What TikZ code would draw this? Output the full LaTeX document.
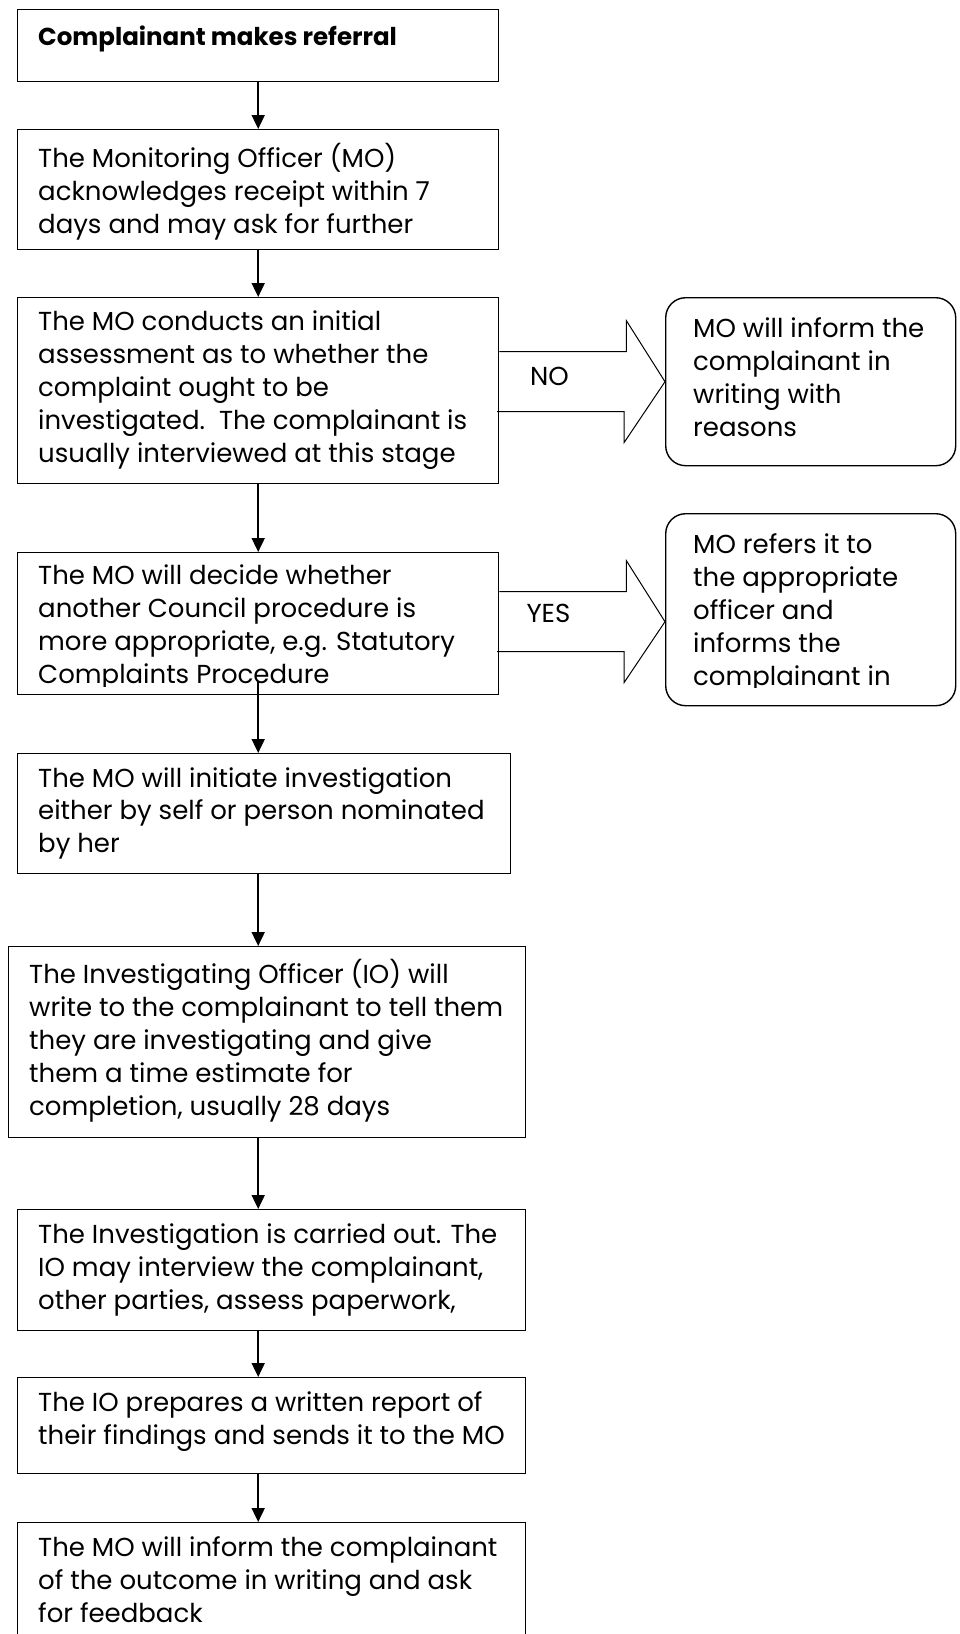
\documentclass[tikz,border=0pt]{standalone}
\usepackage{fontspec}
\newfontfamily\gothic{Poppins}
\usetikzlibrary{arrows.meta,calc}

\begin{document}
\begin{tikzpicture}[
    x=1pt, y=-1pt,
    every node/.style={font=\gothic\fontsize{26}{33}\selectfont},
    box/.style={draw, line width=1.4pt, anchor=north west, inner sep=0pt},
    answer/.style={draw, line width=1.4pt, rounded corners=20pt, anchor=north west, inner sep=0pt},
    txt/.style={anchor=north west, inner sep=0pt, align=left, execute at begin node=\strut},
    flow/.style={-{Triangle[length=14pt, width=13pt]}, line width=1.8pt},
    blockarrow/.style={draw, line width=1pt, line join=miter}
]
\useasboundingbox (0,0) rectangle (960,1634);

% main column
\node[box, minimum width=481, minimum height=72] (referral) at (17,9) {};
\node[box, minimum width=481, minimum height=120] (acknowledge) at (17,129) {};
\node[box, minimum width=481, minimum height=186] (assess) at (17,297) {};
\node[box, minimum width=481, minimum height=142] (decide) at (17,552) {};
\node[box, minimum width=493, minimum height=120] (initiate) at (17,753) {};
\node[box, minimum width=517, minimum height=191] (write) at (8,946) {};
\node[box, minimum width=508, minimum height=121] (carry) at (17,1209) {};
\node[box, minimum width=508, minimum height=96] (report) at (17,1377) {};
\node[box, minimum width=508, minimum height=140] (outcome) at (17,1522) {};

% side outcomes
\node[answer, minimum width=290, minimum height=168] (noans) at (665,297) {};
\node[answer, minimum width=290, minimum height=192] (yesans) at (665,513) {};

\node[txt, font=\gothic\fontsize{24.5}{33}\selectfont] (referral-t) at ($(referral.north west)+(21,13)$) {\textbf{Complainant makes referral}};
\node[txt] (acknowledge-t) at ($(acknowledge.north west)+(21,14)$) {The Monitoring Officer (MO)\\acknowledges receipt within 7\\days and may ask for further};
\node[txt] (assess-t) at ($(assess.north west)+(21,14)$) {The MO conducts an initial\\assessment as to whether the\\complaint ought to be\\investigated.\ \ The complainant is\\usually interviewed at this stage};
\begin{scope}
  \clip (decide.north west) rectangle ([yshift=9pt]decide.south east);
  \node[txt] (decide-t) at ($(decide.north west)+(21,13)$) {The MO will decide whether\\another Council procedure is\\more appropriate, e.g. Statutory\\Complaints Procedure};
\end{scope}
\node[txt] (initiate-t) at ($(initiate.north west)+(21,14)$) {The MO will initiate investigation\\either by self or person nominated\\by her};
\node[txt] (write-t) at ($(write.north west)+(21,13)$) {The Investigating Officer (IO) will\\write to the complainant to tell them\\they are investigating and give\\them a time estimate for\\completion, usually 28 days};
\node[txt] (carry-t) at ($(carry.north west)+(21,14)$) {The Investigation is carried out. The\\IO may interview the complainant,\\other parties, assess paperwork,};
\node[txt] (report-t) at ($(report.north west)+(21,14)$) {The IO prepares a written report of\\their findings and sends it to the MO};
\node[txt] (outcome-t) at ($(outcome.north west)+(21,14)$) {The MO will inform the complainant\\of the outcome in writing and ask\\for feedback};

\node[txt] (noans-t) at ($(noans.north west)+(28,20)$) {MO will inform the\\complainant in\\writing with\\reasons};
\begin{scope}
  \clip (yesans.north west) rectangle ([yshift=19pt]yesans.south east);
  \node[txt] (yesans-t) at ($(yesans.north west)+(28,20)$) {MO refers it to\\the appropriate\\officer and\\informs the\\complainant in};
\end{scope}

% down the column
\draw[flow] (referral.south) -- (acknowledge.north);
\draw[flow] (acknowledge.south) -- (assess.north);
\draw[flow] (assess.south) -- (decide.north);
\draw[flow] ([yshift=14pt]decide.south) -- (decide.south |- initiate.north);
\draw[flow] (initiate.south -| referral.south) -- (write.north -| referral.south);
\draw[flow] (write.south -| referral.south) -- (carry.north -| referral.south);
\draw[flow] (carry.south -| referral.south) -- (report.north -| referral.south);
\draw[flow] (report.south -| referral.south) -- (outcome.north -| referral.south);

% block arrows out to the side
\draw[blockarrow] ($(assess.east |- noans.west)+(0,-30)$) -- ++(127,0) -- ++(0,-31)
  -- (noans.west) -- ++(-41,61) -- ++(0,-31) -- ++(-127,0);
\node[anchor=base, inner sep=0pt] (nolbl) at ($(assess.east |- noans.west)+(50,4)$) {NO};
\draw[blockarrow] ($(decide.east |- yesans.west)+(0,-18)$) -- ++(127,0) -- ++(0,-31)
  -- ($(yesans.west)+(0,12)$) -- ++(-41,61) -- ++(0,-31) -- ++(-127,0);
\node[anchor=base, inner sep=0pt] (yeslbl) at ($(decide.east |- yesans.west)+(49,13)$) {YES};
\end{tikzpicture}
\end{document}
